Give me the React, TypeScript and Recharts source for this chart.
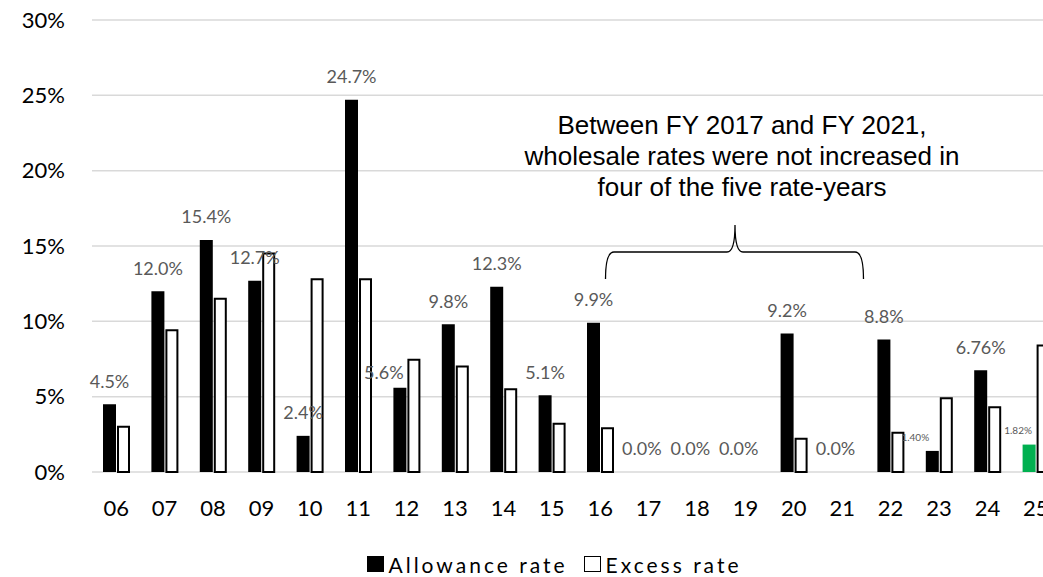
import React from 'react';
import { BarChart, Bar, XAxis, YAxis, CartesianGrid, LabelList, Legend, Cell } from 'recharts';

const years = ['06', '07', '08', '09', '10', '11', '12', '13', '14', '15', '16', '17', '18', '19', '20', '21', '22', '23', '24', '25'];
const allowanceRate = [4.5, 12.0, 15.4, 12.7, 2.4, 24.7, 5.6, 9.8, 12.3, 5.1, 9.9, 0, 0, 0, 9.2, 0, 8.8, 1.4, 6.76, 1.82];
const excessRate = [3.0, 9.4, 11.5, 14.5, 12.8, 12.8, 7.45, 7.0, 5.5, 3.2, 2.9, 0, 0, 0, 2.2, 0, 2.6, 4.9, 4.3, 8.4];
const allowanceLabels = ['4.5%', '12.0%', '15.4%', '12.7%', '2.4%', '24.7%', '5.6%', '9.8%', '12.3%', '5.1%', '9.9%', '0.0%', '0.0%', '0.0%', '9.2%', '0.0%', '8.8%', '1.40%', '6.76%', '1.82%'];
const yTicks = [0, 5, 10, 15, 20, 25, 30];
const legendNames = ['Allowance rate', 'Excess rate'];
const annotationLines = ['Between FY 2017 and FY 2021,', 'wholesale rates were not increased in', 'four of the five rate-years'];
const highlightYear = '25';

const data = years.map((year, i) => ({
  year,
  allowance: allowanceRate[i],
  excess: excessRate[i],
  allowanceLabel: allowanceLabels[i],
}));

const labelTweaks: Record<string, { dx: number; dy: number; small?: boolean }> = {
  '12': { dx: -16, dy: 8 },
  '23': { dx: -17, dy: 9, small: true },
  '25': { dx: -11, dy: 9, small: true },
};

const renderAllowanceLabel = (props: any) => {
  const { x, y, width, height, index, value } = props;
  const year = years[index];
  const t = labelTweaks[year] || { dx: 0, dy: 0 };
  const fs = t.small ? 10 : 18;
  const base = allowanceRate[index] === 0 ? Number(y) + Number(height || 0) : Math.min(Number(y), Number(y) + Number(height || 0));
  const cx = Number(x) + Number(width) / 2 + t.dx;
  const cy = base - 23 + t.dy;
  return (
    <text x={cx} y={cy + fs * 0.36} textAnchor="middle" fill="#595959" fontSize={fs} fontFamily="Lato">
      {value}
    </text>
  );
};

const renderLegend = () => (
  <div
    style={{
      height: 26,
      display: 'flex',
      justifyContent: 'center',
      alignItems: 'center',
      paddingLeft: 48,
      fontFamily: 'Lato',
      fontSize: 21,
      letterSpacing: 3,
      color: '#000',
      boxSizing: 'border-box',
    }}
  >
    <span style={{ width: 17, height: 16, background: '#000', display: 'inline-block', marginRight: 5 }} />
    <span>{legendNames[0]}</span>
    <span
      style={{
        width: 17,
        height: 16,
        border: '1.5px solid #000',
        boxSizing: 'border-box',
        display: 'inline-block',
        marginLeft: 16,
        marginRight: 5,
      }}
    />
    <span>{legendNames[1]}</span>
  </div>
);

export default function App() {
  return (
    <div style={{ position: 'absolute', left: 0, top: 0, width: 1043, height: 577, overflow: 'hidden', background: '#fff' }}>
      <BarChart width={1060} height={577} data={data} margin={{ top: 20, right: 0, bottom: 0, left: 0 }} barGap={2}>
        <CartesianGrid vertical={false} stroke="#d9d9d9" strokeWidth={1.5} />
        <XAxis
          dataKey="year"
          axisLine={false}
          tickLine={false}
          tickSize={0}
          tickMargin={28}
          height={79}
          interval={0}
          tick={{ fontSize: 22, fill: '#000', fontFamily: 'Lato' }}
        />
        <YAxis
          domain={[0, 30]}
          ticks={yTicks}
          tickFormatter={(v: number) => `${v}%`}
          axisLine={false}
          tickLine={false}
          tickSize={0}
          tickMargin={27}
          width={92}
          tick={{ fontSize: 22, fill: '#000', fontFamily: 'Lato' }}
        />
        <Legend verticalAlign="bottom" content={renderLegend} />
        <Bar dataKey="allowance" fill="#000" barSize={13} minPointSize={1} isAnimationActive={false}>
          {data.map((d) => (
            <Cell
              key={d.year}
              fill={d.allowance === 0 ? 'transparent' : d.year === highlightYear ? '#00B050' : '#000'}
            />
          ))}
          <LabelList dataKey="allowanceLabel" content={renderAllowanceLabel} />
        </Bar>
        <Bar dataKey="excess" fill="#fff" stroke="#000" strokeWidth={2} barSize={11} isAnimationActive={false} />
      </BarChart>
      <svg width={1043} height={577} style={{ position: 'absolute', left: 0, top: 0, pointerEvents: 'none' }}>
        {annotationLines.map((line, i) => (
          <text key={i} x={742} y={134 + i * 31} textAnchor="middle" fontSize={26} fontFamily="Liberation Sans" fill="#000">
            {line}
          </text>
        ))}
        <path
          d="M605.5,279 Q605.5,252 614,252 L727,252 Q735,252 735,225 Q735,252 743,252 L855,252 Q863.5,252 863.5,279"
          fill="none"
          stroke="#000"
          strokeWidth={1.3}
        />
      </svg>
    </div>
  );
}
